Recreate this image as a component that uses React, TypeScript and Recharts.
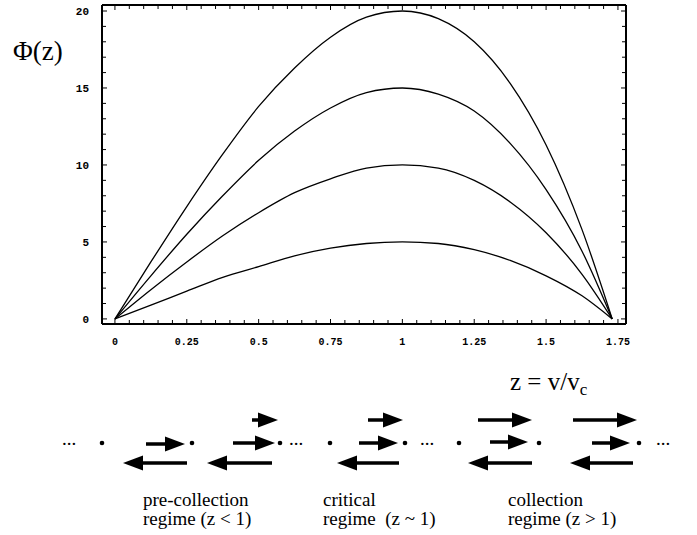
import React from 'react';
import { LineChart, Line, XAxis, YAxis } from 'recharts';

// z = v / v_c sample points
const Z = [0, 0.125, 0.25, 0.375, 0.5, 0.625, 0.75, 0.875, 1, 1.125, 1.25, 1.375, 1.5, 1.625, 1.73];
// Phi(z) for the four curves
const PHI_5 = [0, 0.9, 1.8, 2.7, 3.4, 4.1, 4.6, 4.9, 5.0, 4.9, 4.5, 3.8, 2.8, 1.5, 0];
const PHI_10 = [0, 1.9, 3.7, 5.4, 6.9, 8.2, 9.1, 9.8, 10.0, 9.8, 9.0, 7.6, 5.6, 2.9, 0];
const PHI_15 = [0, 2.8, 5.5, 8.0, 10.3, 12.2, 13.7, 14.7, 15.0, 14.6, 13.5, 11.4, 8.4, 4.4, 0];
const PHI_20 = [0, 3.7, 7.3, 10.7, 13.8, 16.3, 18.3, 19.6, 20.0, 19.5, 18.0, 15.3, 11.3, 5.8, 0];

const X_TICKS = [0, 0.25, 0.5, 0.75, 1, 1.25, 1.5, 1.75];
const X_MINOR = [0.05, 0.1, 0.15, 0.2, 0.3, 0.35, 0.4, 0.45, 0.55, 0.6, 0.65, 0.7, 0.8, 0.85, 0.9, 0.95, 1.05, 1.1, 1.15, 1.2, 1.3, 1.35, 1.4, 1.45, 1.55, 1.6, 1.65, 1.7];
const Y_TICKS = [0, 5, 10, 15, 20];
const Y_MINOR = [1, 2, 3, 4, 6, 7, 8, 9, 11, 12, 13, 14, 16, 17, 18, 19];
const X_DOMAIN: [number, number] = [-0.045, 1.778];
const Y_DOMAIN: [number, number] = [-0.33, 20.39];

// schematic below the chart
const DOTS = [102, 192, 280, 330, 405, 459, 539, 639];
const ELLIPSES = [62, 289, 420, 656];
const RIGHT_ARROWS = [
  [146, 185, 444], [252, 278, 420], [233, 275, 443], [368, 403, 420], [359, 398, 443],
  [478, 532, 420], [490, 528, 442], [573, 637, 420], [592, 630, 443],
];
const LEFT_ARROWS = [
  [187, 123, 463], [272, 207, 463], [399, 337, 463], [532, 468, 463], [633, 570, 463],
];
const REGIMES = [
  { x: 143, l1: 'pre-collection', l2: 'regime (z < 1)' },
  { x: 323, l1: 'critical', l2: 'regime\u00a0 (z ~ 1)' },
  { x: 508, l1: 'collection', l2: 'regime (z > 1)' },
];

const rows = Z.map((z, i) => ({ z, p5: PHI_5[i], p10: PHI_10[i], p15: PHI_15[i], p20: PHI_20[i] }));

const NoLabel = () => <g />;
const xFont = { fill: '#000', fontSize: 10, fontFamily: 'Liberation Mono', fontWeight: 'bold' as const };
const yFont = { fill: '#000', fontSize: 11, fontFamily: 'Liberation Mono', fontWeight: 'bold' as const };
const frame = { stroke: '#000', strokeWidth: 2 };
const tl = { stroke: '#000', strokeWidth: 1 };
const SERIF = 'Liberation Serif';

function Arrow({ x1, x2, y }: { x1: number; x2: number; y: number }) {
  const dir = x2 > x1 ? 1 : -1;
  const headLen = 20;
  const half = 7.5;
  const base = x2 - dir * headLen;
  return (
    <g>
      <line x1={x1} y1={y} x2={base + dir * 2} y2={y} stroke="#000" strokeWidth={3.5} />
      <polygon points={`${x2},${y} ${base},${y - half} ${base},${y + half}`} fill="#000" />
    </g>
  );
}

const xMirror = (id: string, orient: 'top' | 'bottom', ticks: number[], size: number, line: any) => (
  <XAxis key={id} xAxisId={id} dataKey="z" type="number" domain={X_DOMAIN} allowDataOverflow ticks={ticks} interval={0}
    orientation={orient} mirror height={1} axisLine={line} tickSize={size} tick={NoLabel} tickLine={tl} />
);
const yMirror = (id: string, orient: 'left' | 'right', ticks: number[], size: number, line: any) => (
  <YAxis key={id} yAxisId={id} dataKey="p20" type="number" domain={Y_DOMAIN} allowDataOverflow ticks={ticks} interval={0}
    orientation={orient} mirror width={1} axisLine={line} tickSize={size} tick={NoLabel} tickLine={tl} />
);

export default function App() {
  return (
    <div style={{ position: 'fixed', left: 0, top: 0, width: 697, height: 535, background: '#fff' }}>
      <LineChart width={697} height={535} data={rows} margin={{ top: 5, right: 71, bottom: 181, left: 72 }}>
        {/* inward frame ticks (mirror axes first) */}
        {xMirror('bmaj', 'bottom', X_TICKS, 5, false)}
        {xMirror('bmin', 'bottom', X_MINOR, 3, false)}
        {xMirror('tmaj', 'top', X_TICKS, 5, frame)}
        {xMirror('tmin', 'top', X_MINOR, 3, false)}
        {yMirror('lmaj', 'left', Y_TICKS, 5, false)}
        {yMirror('lmin', 'left', Y_MINOR, 3, false)}
        {yMirror('rmaj', 'right', Y_TICKS, 5, frame)}
        {yMirror('rmin', 'right', Y_MINOR, 3, false)}
        {/* main labelled axes */}
        <XAxis xAxisId="b" dataKey="z" type="number" domain={X_DOMAIN} allowDataOverflow ticks={X_TICKS} interval={0} orientation="bottom" height={30} tickLine={false} tickSize={0} tickMargin={14} axisLine={frame} tick={xFont} />
        <YAxis yAxisId="l" type="number" domain={Y_DOMAIN} allowDataOverflow ticks={Y_TICKS} interval={0} orientation="left" width={30} tickLine={false} tickSize={0} tickMargin={13} axisLine={frame} tick={yFont} />
        <Line xAxisId="b" yAxisId="l" dataKey="p5" type="monotone" stroke="#000" strokeWidth={1.3} dot={false} isAnimationActive={false} />
        <Line xAxisId="b" yAxisId="l" dataKey="p10" type="monotone" stroke="#000" strokeWidth={1.3} dot={false} isAnimationActive={false} />
        <Line xAxisId="b" yAxisId="l" dataKey="p15" type="monotone" stroke="#000" strokeWidth={1.3} dot={false} isAnimationActive={false} />
        <Line xAxisId="b" yAxisId="l" dataKey="p20" type="monotone" stroke="#000" strokeWidth={1.3} dot={false} isAnimationActive={false} />
      </LineChart>
      <svg width={697} height={535} style={{ position: 'absolute', left: 0, top: 0, pointerEvents: 'none' }}>
        <text x={13} y={60} fontFamily={SERIF} fontSize={27} fill="#000">Φ(z)</text>
        <text x={510} y={390} fontFamily={SERIF} fontSize={25} fill="#000" xmlSpace="preserve">
          z = v/v<tspan fontSize={17} dy={5}>c</tspan>
        </text>
        {ELLIPSES.map((x, i) => (
          <text key={'e' + i} x={x} y={445} fontFamily={SERIF} fontSize={19} fill="#000">...</text>
        ))}
        {DOTS.map((x, i) => (
          <circle key={'d' + i} cx={x} cy={443} r={2.3} fill="#000" />
        ))}
        {RIGHT_ARROWS.map((a, i) => (
          <Arrow key={'r' + i} x1={a[0]} x2={a[1]} y={a[2]} />
        ))}
        {LEFT_ARROWS.map((a, i) => (
          <Arrow key={'l' + i} x1={a[0]} x2={a[1]} y={a[2]} />
        ))}
        {REGIMES.map((r, i) => (
          <g key={'g' + i}>
            <text x={r.x} y={506} fontFamily={SERIF} fontSize={19} fill="#000">{r.l1}</text>
            <text x={r.x} y={525} fontFamily={SERIF} fontSize={19} fill="#000">{r.l2}</text>
          </g>
        ))}
      </svg>
    </div>
  );
}
